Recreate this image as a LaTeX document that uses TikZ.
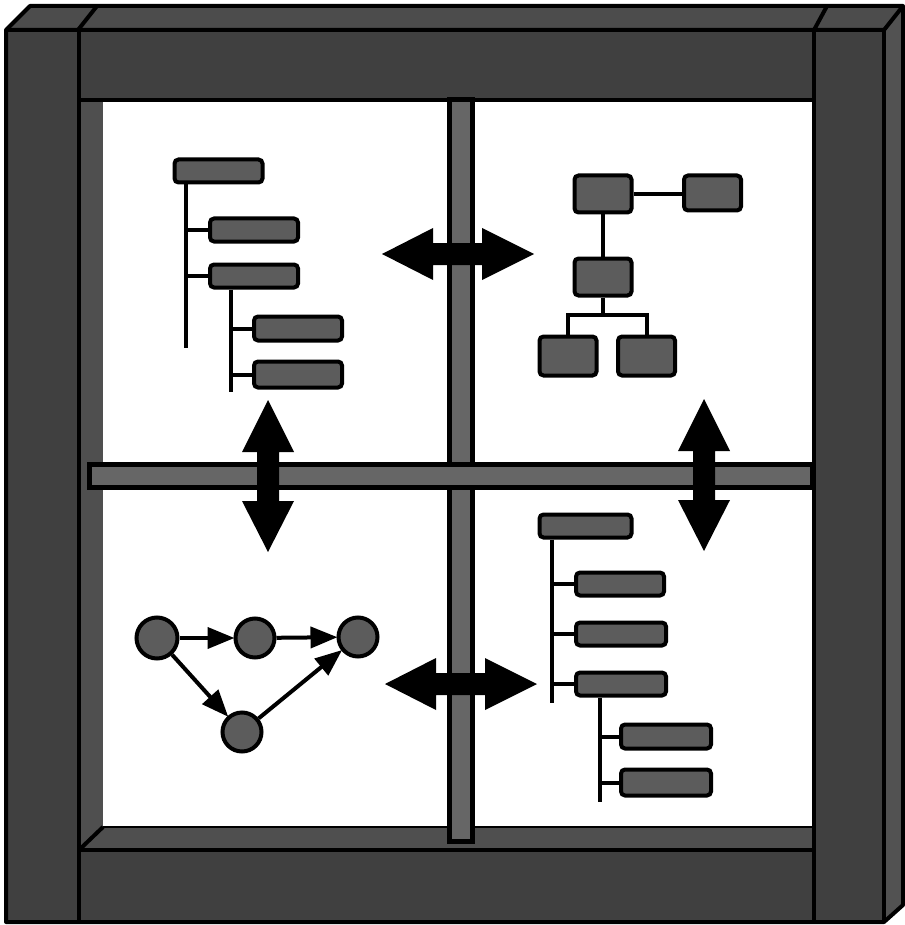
\documentclass[tikz,border=0pt]{standalone}
\usetikzlibrary{arrows.meta}
\definecolor{framefront}{gray}{0.25}
\definecolor{frametop}{gray}{0.30}
\definecolor{frameside}{gray}{0.32}
\definecolor{framebevel}{gray}{0.31}
\definecolor{boxgray}{gray}{0.36}
\definecolor{muntingray}{gray}{0.40}
\tikzset{
  frameline/.style={draw=black, line width=4, line join=round},
  boxnode/.style={draw=black, line width=4, fill=boxgray, rounded corners=4, inner sep=0pt},
  wbox/.style={boxnode, minimum width=88, minimum height=23},
  sqbox/.style={boxnode, minimum width=57, minimum height=37},
  gnode/.style={circle, draw=black, line width=4, fill=boxgray, inner sep=0pt, minimum size=39},
  link/.style={draw=black, line width=4},
  garrow/.style={draw=black, line width=4, -{Triangle[length=27pt, width=21pt]}, shorten >=-1pt},
  dblarr/.pic={\fill[black] (-76,0) -- (-25,-26) -- (-25,-11) -- (24,-11) -- (24,-26) -- (76,0) -- (24,26) -- (24,11) -- (-25,11) -- (-25,26) -- cycle;}
}
\begin{document}
\begin{tikzpicture}[x=1pt,y=-1pt]
\useasboundingbox (0,0) rectangle (904,925);
% ---- frame ----
\fill[framefront] (6,30) -- (884,30) -- (884,922) -- (6,922) -- cycle;
\fill[frametop] (6,30) -- (30,6) -- (903,6) -- (884,30) -- cycle;
\fill[frameside] (884,30) -- (903,6) -- (903,905) -- (884,922) -- cycle;
\fill[framebevel] (79,100) -- (103,102) -- (103,827) -- (79,850) -- cycle;
\fill[framebevel] (79,850) -- (103,827) -- (814,827) -- (814,850) -- cycle;
% panes
\fill[white] (103,102) rectangle (447,462);
\fill[white] (474,102) rectangle (812,462);
\fill[white] (103,489) rectangle (447,827);
\fill[white] (474,489) rectangle (812,827);
% frame lines
\draw[frameline] (6,30) -- (30,6) -- (903,6) -- (903,905) -- (884,922) -- (6,922) -- cycle;
\draw[frameline] (6,30) -- (884,30) -- (903,6);
\draw[frameline] (884,30) -- (884,922);
\draw[frameline] (78,30) -- (97,6);
\draw[frameline] (814,30) -- (827,6);
\draw[frameline] (79,30) -- (79,922);
\draw[frameline] (814,30) -- (814,922);
\draw[frameline] (79,100) -- (814,100);
\draw[frameline] (79,850) -- (814,850);
\draw[frameline] (79,850) -- (103,827);
\draw[draw=black, line width=1.5] (103,827) -- (812,827);
% muntins (horizontal one on top)
\filldraw[fill=muntingray, draw=black, line width=5] (449,100) rectangle (472,841);
\filldraw[fill=muntingray, draw=black, line width=5] (89,464) rectangle (812,487);

% ---- top-left tree ----
\node[wbox] (L0) at (218.5,171) {};
\node[wbox] (L1) at (254,230) {};
\node[wbox] (L2) at (254,276) {};
\node[wbox, minimum height=24] (L3) at (298,328.5) {};
\node[wbox, minimum height=26] (L4) at (298,374.5) {};
\coordinate (LT) at (186,348);
\coordinate (LS) at (231,392);
\draw[link] (L0.south -| LT) -- (LT);
\draw[link] (L1.west) -- (L1.west -| LT);
\draw[link] (L2.west) -- (L2.west -| LT);
\draw[link] (L2.south -| LS) -- (LS);
\draw[link] (L3.west) -- (L3.west -| LS);
\draw[link] (L4.west) -- (L4.west -| LS);

% ---- top-right org chart ----
\node[sqbox] (A) at (603,194) {};
\node[sqbox, minimum height=35] (B) at (712.5,193) {};
\node[sqbox] (C) at (603,277) {};
\node[sqbox, minimum height=39] (D) at (568,356) {};
\node[sqbox, minimum height=39] (E) at (646.5,356) {};
\coordinate (bar) at (603,315);
\draw[link] (A.east) -- (A.east -| B.west);
\draw[link] (A.south) -- (C.north);
\draw[link] (C.south) -- (bar);
\draw[link] (D.north) |- (bar) -| (E.north);

% ---- bottom-left graph ----
\node[gnode, minimum size=41] (N1) at (157,638) {};
\node[gnode] (N2) at (255,638) {};
\node[gnode] (N3) at (358,637) {};
\node[gnode] (N4) at (242,732) {};
\draw[garrow] (N1) -- (N2);
\draw[garrow] (N2) -- (N3);
\draw[garrow] (N1) -- (N4);
\draw[garrow] (N4) -- (N3);

% ---- bottom-right tree ----
\node[wbox, minimum width=92] (R0) at (585.5,526) {};
\node[wbox] (R1) at (620,584) {};
\node[wbox, minimum width=90] (R2) at (621,634) {};
\node[wbox, minimum width=90] (R3) at (621,684) {};
\node[wbox, minimum width=90, minimum height=24] (R4) at (666,736.5) {};
\node[wbox, minimum width=90, minimum height=26] (R5) at (666,782.5) {};
\coordinate (RT) at (552,703);
\coordinate (RS) at (600,802);
\draw[link] (R0.south -| RT) -- (RT);
\draw[link] (R1.west) -- (R1.west -| RT);
\draw[link] (R2.west) -- (R2.west -| RT);
\draw[link] (R3.west) -- (R3.west -| RT);
\draw[link] (R3.south -| RS) -- (RS);
\draw[link] (R4.west) -- (R4.west -| RS);
\draw[link] (R5.west) -- (R5.west -| RS);

% ---- double arrows ----
\pic at (458,254) {dblarr};
\pic at (461,684) {dblarr};
\pic[rotate=90] at (268,476) {dblarr};
\pic[rotate=90] at (704,475) {dblarr};
\end{tikzpicture}
\end{document}
